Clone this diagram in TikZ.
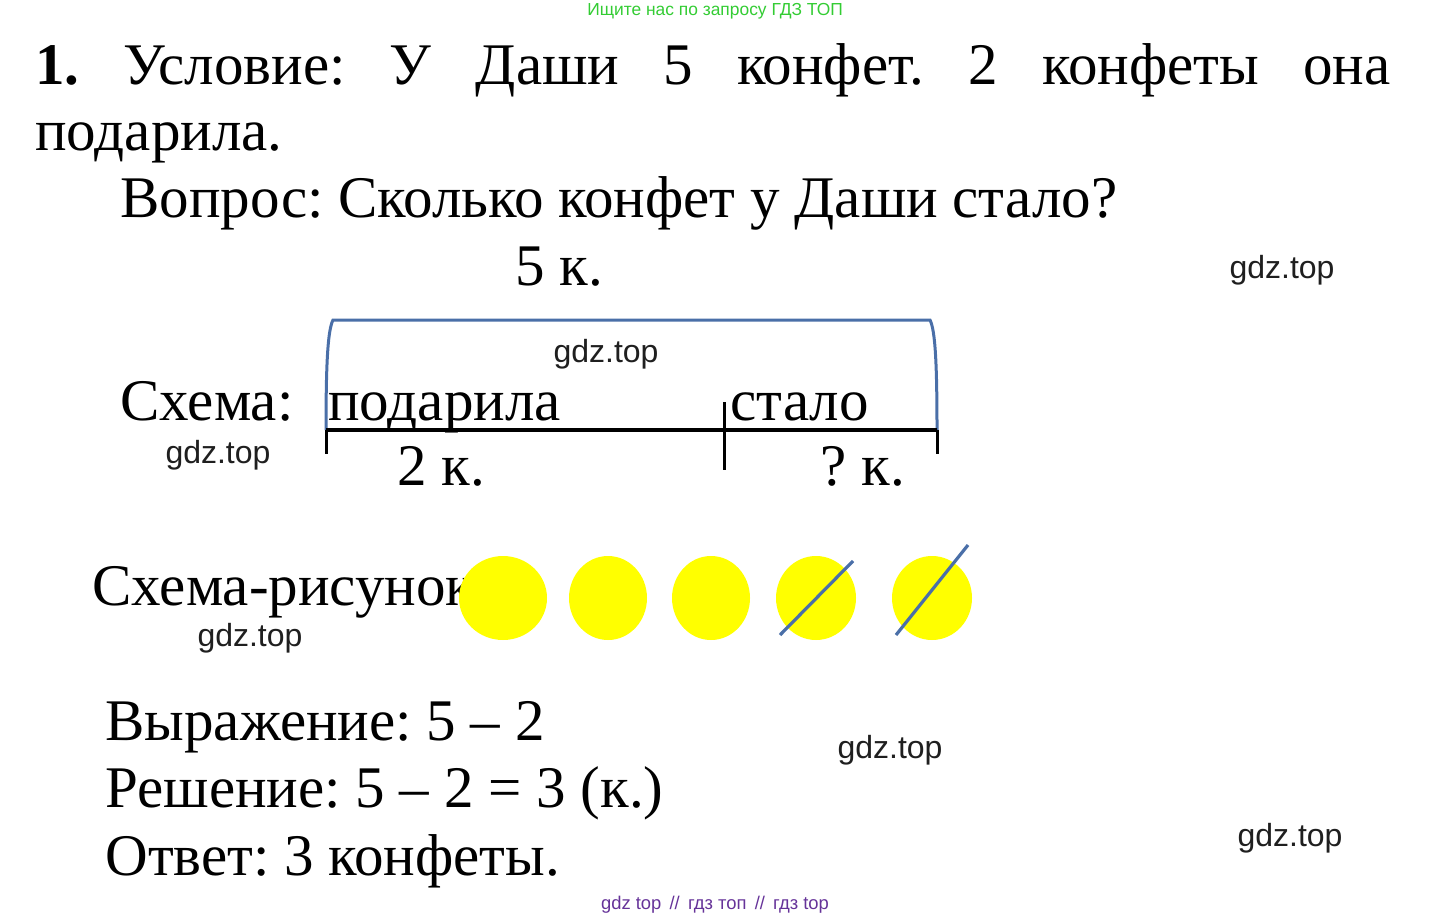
\documentclass[tikz,border=0pt]{standalone}
\usepackage{fontspec}
\setmainfont{Liberation Serif}
\newfontfamily\gdzfont{Liberation Sans}
\frenchspacing
\definecolor{gdzgreen}{RGB}{51,204,51}
\definecolor{gdzpurple}{RGB}{102,51,153}
\definecolor{brblue}{RGB}{74,111,168}
\definecolor{candyyellow}{RGB}{255,255,0}
\tikzset{
  txt/.style={font=\fontsize{29.5}{36}\selectfont, inner sep=0pt, anchor=base west},
  wm/.style={font=\gdzfont\fontsize{16}{18}\selectfont, text=black!88, inner sep=0pt},
  candy/.style={fill=candyyellow, draw=none},
  crossout/.style={draw=brblue, line width=1.6pt},
}
\begin{document}
\begin{tikzpicture}[x=0.5pt,y=-0.5pt]
	\useasboundingbox (0,0) rectangle (1433,920);

	\node[font=\gdzfont\fontsize{8.7}{10}\selectfont, text=gdzgreen, inner sep=0pt] (top) at (715,11) {Ищите нас по запросу ГДЗ ТОП};

	% condition and question
	\node[txt] (cond) at (35,85) {\makebox[677.5pt][s]{\textbf{1.} Условие: У Даши 5 конфет. 2 конфеты она}};
	\node[txt] (cond2) at (35,150) {подарила.};
	\node[txt] (quest) at (120,217) {Вопрос: Сколько конфет у Даши стало?};

	% scheme
	\node[txt] (total) at (515,285) {5 к.};
	\node[txt] (schema) at (120,420) {Схема:};
	\node[txt] (gave) at (328,420) {подарила};
	\node[txt] (left) at (730,420) {стало};
	\node[txt] (two) at (397,485) {2 к.};
	\node[txt] (what) at (820,485) {? к.};

	\coordinate (sL) at (326,430);
	\coordinate (sM) at (724,430);
	\coordinate (sR) at (937,430);

	\draw[brblue, line width=1.5pt] (sL) .. controls (326,360) and (328,330) .. (333,320)
		-- (930,320) .. controls (935,330) and (937,360) .. (sR);
	\draw[line width=2pt] (sL) -- (sR);
	\draw[line width=1.5pt] (sL) -- ++(0,24);
	\draw[line width=1.5pt] (sR) -- ++(0,24);
	\draw[line width=1.5pt] (sM) ++(0,-28) -- ++(0,68);

	% picture scheme
	\node[txt] (pic) at (92,605) {Схема-рисунок};
	\foreach \cx/\rx [count=\i] in {503/44,608/39,711/39,816/40,932/40}
		\fill[candy] (\cx,598) ellipse ({\rx} and 42) coordinate (c\i);
	\draw[crossout] (780,635) -- (853,561);
	\draw[crossout] (896,635) -- (968,545);

	% solution
	\node[txt] (expr) at (105,740) {Выражение: 5 – 2};
	\node[txt] (sol) at (105,807) {Решение: 5 – 2 = 3 (к.)};
	\node[txt] (ans) at (105,875) {Ответ: 3 конфеты.};

	% watermarks
	\node[wm] (w1) at (1282,270) {gdz.top};
	\node[wm] (w2) at (606,354) {gdz.top};
	\node[wm] (w3) at (218,455) {gdz.top};
	\node[wm] (w4) at (250,638) {gdz.top};
	\node[wm] (w5) at (890,750) {gdz.top};
	\node[wm] (w6) at (1290,838) {gdz.top};

	\node[font=\gdzfont\fontsize{9.2}{11}\selectfont, text=gdzpurple, inner sep=0pt] (bottom) at (715,905) {gdz top \,//\, гдз топ \,//\, гдз top};
\end{tikzpicture}
\end{document}
